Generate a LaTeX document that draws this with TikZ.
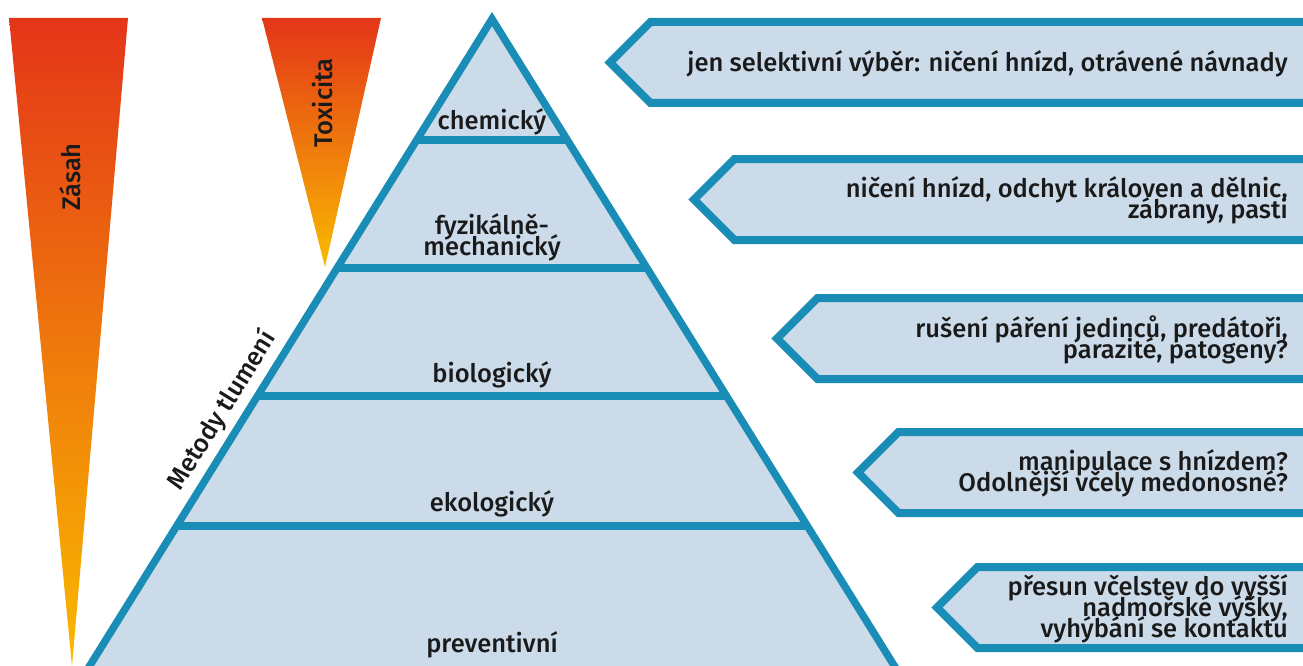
\documentclass[tikz,border=0pt]{standalone}
\usepackage{fontspec}
\setmainfont{Fira Sans}[UprightFont=* Medium]
\usetikzlibrary{calc}
\definecolor{edgeblue}{HTML}{1A8DB6}
\definecolor{paleblue}{HTML}{CBDBE9}
\definecolor{hotred}{HTML}{E43519}
\definecolor{midorange}{HTML}{EF8200}
\definecolor{warmyellow}{HTML}{F9BA00}
\definecolor{inkblack}{HTML}{1A1A1A}
\def\labelfont{\fontsize{25.5}{21}\selectfont\lineskiplimit=-50pt}
\tikzset{
	level/.style={draw=edgeblue, line width=7.5pt},
	tagline/.style={draw=edgeblue, fill=paleblue, line width=8pt, line join=miter},
	tagtext/.style={anchor=east, align=right, inner sep=0pt, text=inkblack, font=\labelfont},
	lvltext/.style={anchor=base, align=center, inner sep=0pt, text=inkblack, font=\labelfont},
	wedge/.style={top color=hotred, middle color=midorange, bottom color=warmyellow},
}
\def\tagbox[#1](#2:#3)#4{%
	\draw[tagline] (1330, #3) -- (#2+40.5, #3) -- (#2, #3+40.5) -- (#2+40.5, #3+81) -- (1330, #3+81) -- cycle;
	\node[tagtext] (#1) at (1288, #3+41.5) {#4};
}

\begin{document}
\begin{tikzpicture}[x=1pt, y=-1pt]
				\useasboundingbox (0, 0) rectangle (1303, 666);
				\clip (0, 0) rectangle (1303, 666);
				
				\shade[wedge] (9, 18) -- (128, 18) -- (72, 666) -- cycle;
				\node[rotate=90, text=inkblack, font=\labelfont] (zasah) at (70, 177) {Zásah};
				
				\shade[wedge] (262, 18) -- (381, 18) -- (325, 267) -- cycle;
				\node[rotate=90, text=inkblack, font=\labelfont] (toxicita) at (323, 103) {Toxicita};
				
				\coordinate (apex) at (492, 19);
				\coordinate (bl) at (84, 675);
				\coordinate (br) at (900, 675);
				\fill[paleblue] (apex) -- (bl) -- (br) -- cycle;
				\draw[level] (416.7, 140) -- (567.3, 140);
				\draw[level] (337.1, 268) -- (646.9, 268);
				\draw[level] (257.5, 396) -- (726.5, 396);
				\draw[level] (176.6, 526) -- (807.4, 526);
				\draw[level, line join=miter] (bl) -- (apex) -- (br);
				
				\node[lvltext] (chem) at (492, 130) {chemický};
				\node[lvltext] (fyz) at (492, 255) {fyzikálně-\\mechanický};
				\node[lvltext] (bio) at (492, 382) {biologický};
				\node[lvltext] (eko) at (492, 511) {ekologický};
				\node[lvltext] (prev) at (492, 652) {preventivní};
				\path (bl) -- (apex) node[pos=0.385, sloped, above=9pt, inner sep=0pt, text=inkblack, font=\labelfont] (metody) {Metody tlumení};
				
				\tagbox[chemtag](610:22){jen selektivní výběr: ničení hnízd, otrávené návnady}
				\tagbox[fyztag](694:159){ničení hnízd, odchyt královen a dělnic,\\zábrany, pasti}
				\tagbox[biotag](777:298){rušení páření jedinců, predátoři,\\parazité, patogeny?}
				\tagbox[ekotag](858:432){manipulace s hnízdem?\\Odolnější včely medonosné?}
				\tagbox[prevtag](937:567){přesun včelstev do vyšší\\nadmořské výšky,\\vyhýbání se kontaktu}
			\end{tikzpicture}
\end{document}
